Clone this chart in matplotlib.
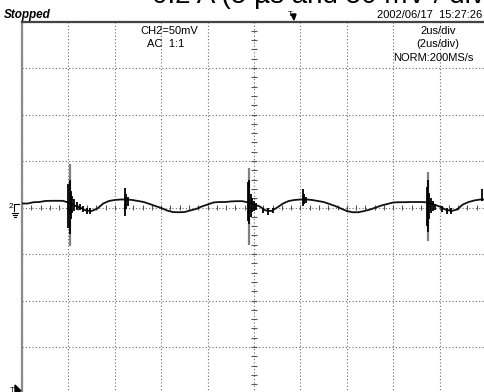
import numpy as np
import matplotlib
matplotlib.use("Agg")
import matplotlib.pyplot as plt
from matplotlib.patches import Polygon
from matplotlib.lines import Line2D

# ---------------- data (time in us, signal in mV) ----------------
t_us = [0.0, 0.25, 0.5, 0.75, 1.0, 1.25, 1.5, 1.75, 2.0, 2.25, 2.5, 2.75, 3.0, 3.25,
        3.5, 3.75, 4.0, 4.25, 4.5, 4.75, 5.0, 5.25, 5.5, 5.75, 6.0, 6.25, 6.5, 6.75,
        7.0, 7.25, 7.5, 7.75, 8.0, 8.25, 8.5, 8.75, 9.0, 9.25, 9.5, 9.75, 10.0, 10.25,
        10.5, 10.75, 11.0, 11.25, 11.5, 11.75, 12.0, 12.25, 12.5, 12.75, 13.0, 13.25,
        13.5, 13.75, 14.0, 14.25, 14.5, 14.75, 15.0, 15.25, 15.5, 15.75, 16.0, 16.25,
        16.5, 16.75, 17.0, 17.25, 17.5, 17.75, 18.0, 18.25, 18.5, 18.75, 19.0, 19.25,
        19.5, 19.75, 20.0]
v_mV = [4.3, 4.3, 5.7, 5.9, 7.0, 7.2, 7.2, 7.2, 5.4, 2.2, 0.0, -3.2, -3.8, -1.1,
        4.3, 7.0, 8.1, 8.6, 8.6, 8.1, 7.0, 5.9, 3.8, 1.6, -0.5, -3.2, -4.9, -5.1,
        -4.9, -3.2, -1.6, 1.1, 3.2, 5.4, 5.9, 5.9, 6.5, 6.8, 6.8, 5.4, 3.2, 1.1,
        -3.2, -3.8, 0.0, 4.3, 7.0, 8.1, 8.6, 8.6, 8.1, 7.0, 5.9, 3.8,
        1.6, -1.1, -3.8, -5.1, -5.1, -3.8, -2.2, 0.0, 2.2, 3.8, 5.4, 5.7,
        5.7, 5.9, 5.9, 5.9, 5.4, 3.2, 1.1, -2.2, -3.8, -2.2, 3.2, 5.9,
        7.6, 8.6, 8.6]

# switching spike envelopes (grey) : time, low, high
env_t = [2.05, 9.80, 17.50]
env_lo = [-41, -40, -36]
env_hi = [47, 42, 38]

# ringing bursts (black) : time, low, high
burst_t = [2.00, 2.05, 2.10, 2.17, 2.25, 2.35, 2.50, 2.65, 2.80, 2.95,
           4.44, 4.48, 4.55,
           9.75, 9.80, 9.85, 9.92, 10.00, 10.10, 10.40, 10.60, 10.80,
           12.11, 12.15, 12.22,
           17.45, 17.50, 17.56, 17.63, 17.72, 17.82, 18.10, 18.30, 18.50,
           19.83]
burst_lo = [-22, -28, -12, -6, -4, -3, -3, -5, -7, -7,
            -9, -2, 2,
            -15, -18, -10, -5, -4, -3, -6, -8, -6,
            2, 4, 5,
            -20, -26, -12, -6, -4, -3, -5, -7, -7,
            7]
burst_hi = [25, 30, 18, 12, 9, 6, 4, 2, 0, -1,
            21, 14, 11,
            27, 30, 15, 10, 7, 5, 0, -1, -1,
            20, 14, 11,
            22, 30, 16, 10, 7, 4, 2, 0, -1,
            20]

# ---------------- figure ----------------
W, H = 484, 392
fig = plt.figure(figsize=(W / 100, H / 100), dpi=100)
fig.patch.set_facecolor("white")


def fx(x):
    return x / W


def fy(y):
    return 1 - y / H


left, right, top, bottom = 22.0, 486.0, 21.5, 393.5
ax = fig.add_axes([fx(left), fy(bottom), (right - left) / W, (bottom - top) / H])
ax.set_xlim(0, 20)
ax.set_ylim(-200, 200)
ax.set_xticks(np.arange(0, 20.1, 2))
ax.set_yticks(np.arange(-200, 200.1, 50))
ax.tick_params(length=0, labelbottom=False, labelleft=False)
ax.grid(True, color="#6a6a6a", linestyle=(0, (1, 2)), linewidth=0.8)
for s in ax.spines.values():
    s.set_color("#444444")
    s.set_linewidth(1.6)
ax.spines["left"].set_color("#8a8a8a")

# center graticule tick marks
ax.vlines(np.arange(0, 20.01, 0.4), -2.8, 2.8, color="#555555", lw=0.8)
ax.hlines(np.arange(-200, 200.1, 10), 10 - 0.11, 10 + 0.11, color="#555555", lw=0.8)

# trace
ax.vlines(env_t, env_lo, env_hi, color="#808080", lw=1.6, zorder=3)
ax.plot(t_us, v_mV, color="#111111", lw=1.3, zorder=4)
ax.vlines(burst_t, burst_lo, burst_hi, color="black", lw=1.3, zorder=5)

# ---------------- texts ----------------
sans = ["Liberation Sans", "DejaVu Sans"]
fig.text(fx(152), fy(3.0), "0.2 A (5 µs and 50 mV / div)", fontsize=20,
         family=sans, va="baseline", ha="left", color="black")
fig.text(fx(4), fy(18), "Stopped", fontsize=8.5, family=sans, weight="bold",
         style="italic", va="baseline", ha="left")
fig.text(fx(482), fy(18), "2002/06/17  15:27:26", fontsize=8, family=sans,
         va="baseline", ha="right")
fig.text(fx(169), fy(34), "CH2=50mV", fontsize=8, family=sans, va="baseline", ha="center")
fig.text(fx(147), fy(47), "AC  1:1", fontsize=8, family=sans, va="baseline", ha="left")
fig.text(fx(438), fy(34), "2us/div", fontsize=8, family=sans, va="baseline", ha="center")
fig.text(fx(438), fy(47), "(2us/div)", fontsize=8, family=sans, va="baseline", ha="center")
fig.text(fx(433), fy(61), "NORM:200MS/s", fontsize=8, family=sans, va="baseline", ha="center")

# trigger position marker (top)
fig.text(fx(288), fy(16), "T", fontsize=5.5, family=sans, va="baseline", ha="left")
fig.add_artist(Polygon([(fx(291), fy(14)), (fx(296), fy(14)), (fx(294), fy(20))],
                       closed=True, color="black", transform=fig.transFigure))

# channel 2 ground marker (left)
fig.text(fx(8.5), fy(208.5), "2", fontsize=6, family=sans, va="baseline", ha="left")
fig.add_artist(Line2D([fx(14), fx(14), fx(19)], [fy(211), fy(203.5), fy(203.5)],
                      color="black", lw=0.8, transform=fig.transFigure))
for yy, half in [(212.5, 3.0), (214.5, 2.0), (216.5, 0.8)]:
    fig.add_artist(Line2D([fx(15 - half), fx(15 + half)], [fy(yy), fy(yy)],
                          color="black", lw=0.8, transform=fig.transFigure))

# trigger level marker (bottom left)
fig.text(fx(9.5), fy(391.5), "T", fontsize=5.5, family=sans, va="baseline", ha="left")
fig.add_artist(Polygon([(fx(15), fy(385)), (fx(21), fy(391)), (fx(15), fy(392))],
                       closed=True, color="black", transform=fig.transFigure))

fig.savefig("out.png", dpi=100)
